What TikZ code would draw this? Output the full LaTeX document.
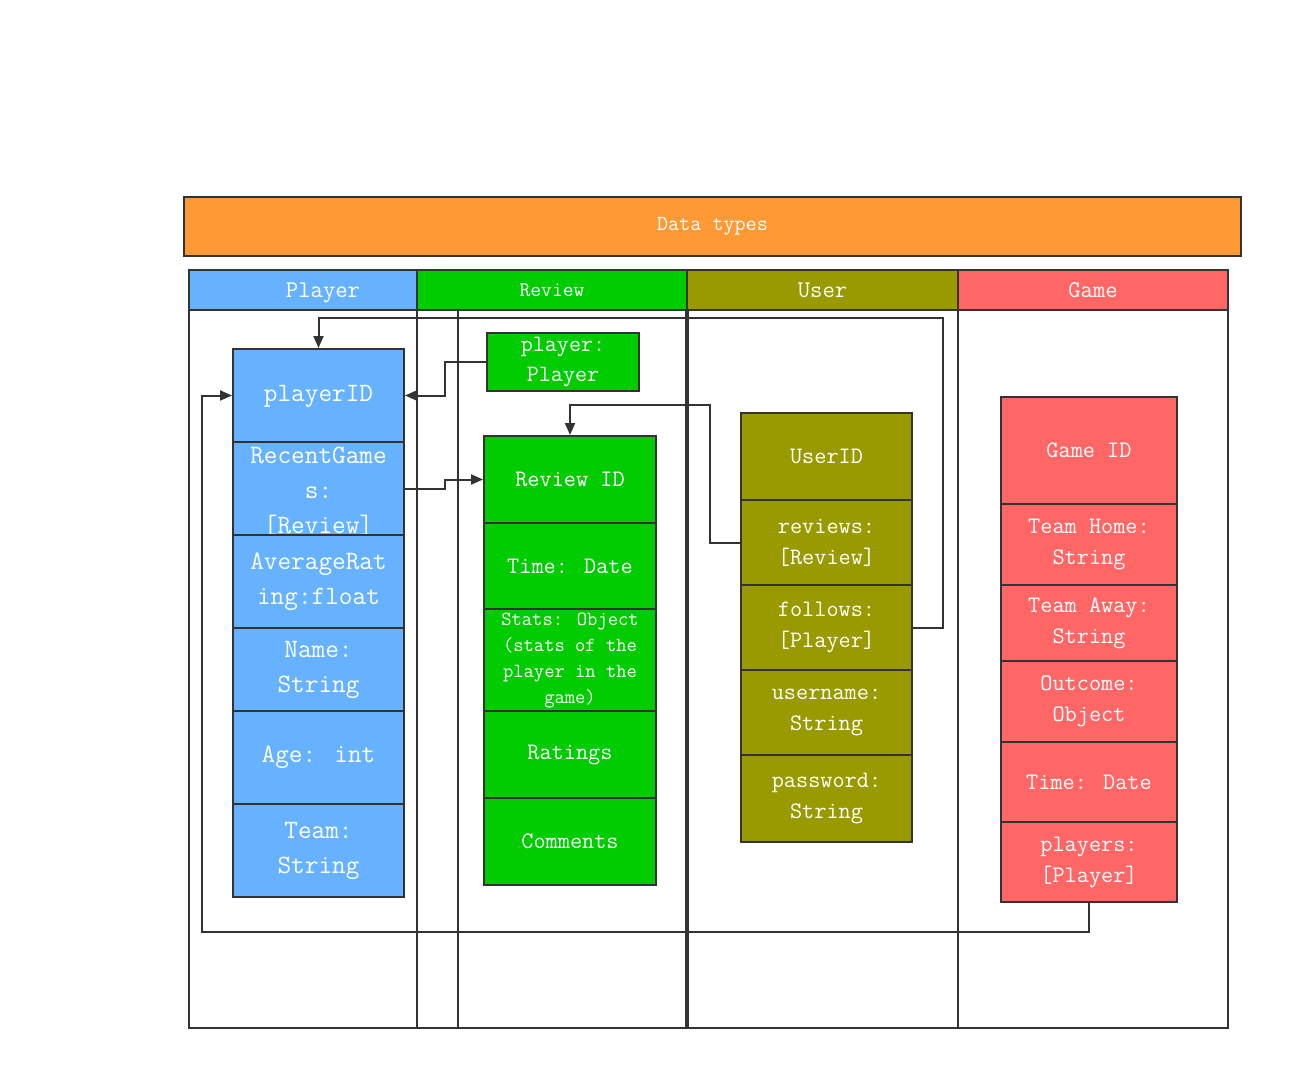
\documentclass[tikz,border=0pt]{standalone}
\usepackage{fontspec}
\usetikzlibrary{arrows.meta}
\definecolor{lc}{HTML}{333333}
\definecolor{cblue}{HTML}{66B2FF}
\definecolor{cgreen}{HTML}{00CC00}
\definecolor{colive}{HTML}{999900}
\definecolor{cred}{HTML}{FF6666}
\definecolor{corange}{HTML}{FF9933}
\newcommand\fsAt[2]{\ttfamily\fontsize{#1}{#2}\selectfont\addfontfeatures{FakeBold=1}}
\newcommand\fsBig{\fsAt{26.5}{35}}
\newcommand\fsMid{\fsAt{23.6}{31}}
\newcommand\fsSmall{\fsAt{20}{26}}
\newcommand\fsHead{\fsAt{21.5}{26}}
\tikzset{
  box/.style={draw=lc, line width=2pt, text=white, inner sep=0pt, align=center},
  pfld/.style={box, fill=cblue, minimum width=171pt, font=\fsBig},
  rfld/.style={box, fill=cgreen, minimum width=172pt, font=\fsMid},
  ufld/.style={box, fill=colive, minimum width=171pt, font=\fsMid},
  gfld/.style={box, fill=cred, minimum width=176pt, font=\fsMid},
  lane/.style={draw=lc, line width=2pt},
  conn/.style={draw=lc, line width=2pt, -{Triangle[length=12pt,width=10pt]}},
  txt/.style={text=white, inner sep=0pt, align=center}
}
\begin{document}
\begin{tikzpicture}[x=1pt,y=-1pt]
\useasboundingbox (0,0) rectangle (1303,1090);
\fill[white] (0,0) rectangle (1303,1090);
% title
\node[box, fill=corange, minimum width=1057pt, minimum height=59pt, font=\fsHead] (title) at (712.5,226.5) {\raisebox{-4pt}[0pt][0pt]{Data types}};
% lanes
\draw[lane] (189,310) rectangle (417,1028);
\draw[lane] (417,310) rectangle (686,1028);
\draw[lane] (688,310) rectangle (958,1028);
\draw[lane] (958,310) rectangle (1228,1028);
\draw[lane] (458,310) -- (458,1028);
% headers
\node[box, fill=cblue, minimum width=228pt, minimum height=40pt] (hplayer) at (303,290) {};
\node[txt, font={\fsAt{24}{28}}] (hplayertext) at (323,293) {Player};
\node[box, fill=cgreen, minimum width=270pt, minimum height=40pt, font={\fsAt{21}{26}}] (hreview) at (552,290) {Review};
\node[box, fill=colive, minimum width=271pt, minimum height=40pt, font={\fsAt{24}{28}}] (huser) at (822.5,290) {User};
\node[box, fill=cred, minimum width=270pt, minimum height=40pt, font={\fsAt{24}{28}}] (hgame) at (1093,290) {Game};
% Player entity
\node[pfld, minimum height=93pt] (pid) at (318.5,395.5) {\raisebox{-6pt}[0pt][0pt]{playerID}};
\node[pfld, minimum height=93pt] (prg) at (318.5,488.5) {};
\begin{scope}
\clip (233,442) rectangle (404,535);
\node[txt, font=\fsBig] (prgtext) at (318.5,491) {RecentGame\\s:\\{[}Review{]}};
\end{scope}
\node[pfld, minimum height=93pt] (pavg) at (318.5,581.5) {AverageRat\\ing:float};
\node[pfld, minimum height=83pt] (pname) at (318.5,669.5) {Name:\\String};
\node[pfld, minimum height=93pt] (page) at (318.5,757.5) {Age: int};
\node[pfld, minimum height=93pt] (pteam) at (318.5,850.5) {Team:\\String};
% Review entity
\node[rfld, minimum width=152pt, minimum height=58pt, font={\fsAt{23.4}{30}}] (rpp) at (563,362) {player:\\Player};
\node[rfld, minimum height=87pt] (rid) at (570,479.5) {Review ID};
\node[rfld, minimum height=86pt] (rtime) at (570,566) {Time: Date};
\node[rfld, minimum height=102pt] (rstats) at (570,660) {};
\begin{scope}
\clip (484,609) rectangle (656,711);
\node[txt, font=\fsSmall] (rstatstext) at (570,661) {Stats: Object\\(stats of the\\player in the\\game)};
\end{scope}
\node[rfld, minimum height=87pt] (rrat) at (570,754.5) {Ratings};
\node[rfld, minimum height=87pt] (rcom) at (570,841.5) {Comments};
% User entity
\node[ufld, minimum height=87pt] (uid) at (826.5,456.5) {UserID};
\node[ufld, minimum height=85pt] (urev) at (826.5,542.5) {reviews:\\{[}Review{]}};
\node[ufld, minimum height=85pt] (ufol) at (826.5,627.5) {follows:\\{[}Player{]}};
\node[ufld, minimum height=85pt] (uname) at (826.5,712.5) {username:\\String};
\node[ufld, minimum height=87pt] (upw) at (826.5,798.5) {password:\\String};
% Game entity
\node[gfld, minimum height=107pt] (gid) at (1089,450.5) {Game ID};
\node[gfld, minimum height=81pt] (ghome) at (1089,544.5) {Team Home:\\String};
\node[gfld, minimum height=76pt] (gaway) at (1089,623) {Team Away:\\String};
\node[gfld, minimum height=81pt] (gout) at (1089,701.5) {Outcome:\\Object};
\node[gfld, minimum height=80pt] (gtime) at (1089,782) {Time: Date};
\node[gfld, minimum height=80pt] (gplay) at (1089,862) {players:\\{[}Player{]}};
% connectors
\draw[conn] (rpp.west) -- ++(-41,0) |- (pid.east);
\draw[conn] (prg.east) -- ++(40,0) |- (rid.west);
\draw[conn] (urev.west) -- ++(-30,0) |- ([yshift=30pt]rid.north) -- (rid.north);
\draw[conn] (ufol.east) -- ++(30,0) |- ([yshift=30pt]pid.north) -- (pid.north);
\draw[conn] (gplay.south) -- ++(0,29) -| ([xshift=-30pt]pid.west) -- (pid.west);
\end{tikzpicture}
\end{document}
